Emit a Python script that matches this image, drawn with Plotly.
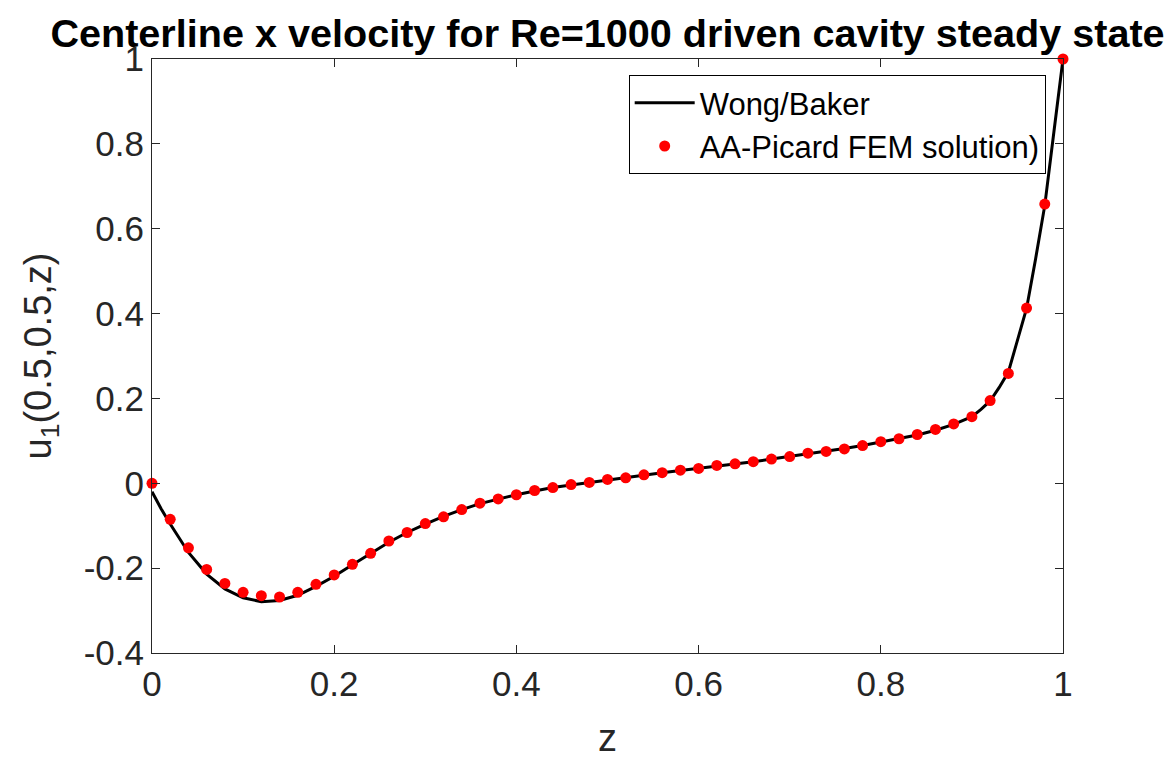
import plotly.graph_objects as go

# FEM solution points (red dots)
fem_z = [0.00, 0.02, 0.04, 0.06, 0.08, 0.10, 0.12, 0.14, 0.16, 0.18,
         0.20, 0.22, 0.24, 0.26, 0.28, 0.30, 0.32, 0.34, 0.36, 0.38,
         0.40, 0.42, 0.44, 0.46, 0.48, 0.50, 0.52, 0.54, 0.56, 0.58,
         0.60, 0.62, 0.64, 0.66, 0.68, 0.70, 0.72, 0.74, 0.76, 0.78,
         0.80, 0.82, 0.84, 0.86, 0.88, 0.90, 0.92, 0.94, 0.96, 0.98, 1.00]
fem_u = [0.000, -0.085, -0.152, -0.203, -0.236, -0.257, -0.265, -0.268, -0.257, -0.238,
         -0.216, -0.191, -0.165, -0.136, -0.116, -0.095, -0.079, -0.062, -0.047, -0.037,
         -0.027, -0.017, -0.010, -0.003, 0.002, 0.009, 0.013, 0.020, 0.025, 0.031,
         0.035, 0.042, 0.046, 0.051, 0.057, 0.063, 0.071, 0.075, 0.081, 0.089,
         0.098, 0.105, 0.115, 0.127, 0.140, 0.157, 0.195, 0.259, 0.413, 0.658, 1.000]

# Wong/Baker reference curve (black line)
ref_z = [0.00, 0.01, 0.02, 0.04, 0.06, 0.08, 0.10, 0.12, 0.14, 0.16, 0.18,
         0.20, 0.22, 0.24, 0.26, 0.28, 0.30, 0.32, 0.34, 0.36, 0.38,
         0.40, 0.42, 0.44, 0.46, 0.48, 0.50, 0.52, 0.54, 0.56, 0.58,
         0.60, 0.62, 0.64, 0.66, 0.68, 0.70, 0.72, 0.74, 0.76, 0.78,
         0.80, 0.82, 0.84, 0.86, 0.88, 0.90, 0.91, 0.92, 0.93, 0.94,
         0.95, 0.96, 0.97, 0.98, 0.99, 1.00]
ref_u = [-0.020, -0.060, -0.096, -0.163, -0.214, -0.249, -0.270, -0.279, -0.276, -0.264, -0.243,
         -0.219, -0.192, -0.165, -0.139, -0.116, -0.096, -0.078, -0.062, -0.048, -0.037,
         -0.027, -0.018, -0.010, -0.004, 0.002, 0.008, 0.013, 0.019, 0.025, 0.030,
         0.035, 0.041, 0.046, 0.051, 0.057, 0.063, 0.069, 0.075, 0.082, 0.089,
         0.097, 0.105, 0.114, 0.125, 0.139, 0.157, 0.174, 0.194, 0.226, 0.262,
         0.335, 0.412, 0.530, 0.655, 0.828, 1.000]

x_ticks = [0, 0.2, 0.4, 0.6, 0.8, 1]
x_labels = ["0", "0.2", "0.4", "0.6", "0.8", "1"]
y_ticks = [-0.4, -0.2, 0, 0.2, 0.4, 0.6, 0.8, 1]
y_labels = ["-0.4", "-0.2", "0", "0.2", "0.4", "0.6", "0.8", "1"]

font = "Liberation Sans, Arial, sans-serif"
axcol = "#262626"

fig = go.Figure()
fig.add_trace(go.Scatter(
    x=ref_z, y=ref_u, mode="lines", name="Wong/Baker",
    line=dict(color="black", width=3), cliponaxis=False))
fig.add_trace(go.Scatter(
    x=fem_z, y=fem_u, mode="markers", name="AA-Picard FEM solution)",
    marker=dict(color="#ff0000", size=11), cliponaxis=False))

axis_common = dict(
    showline=True, linecolor=axcol, linewidth=1, mirror="ticks",
    ticks="inside", ticklen=8, tickcolor=axcol, showgrid=False, zeroline=False,
    tickfont=dict(family=font, size=35, color=axcol))

fig.update_xaxes(range=[0, 1], tickvals=x_ticks, ticktext=x_labels,
                 title=dict(text="z", font=dict(family=font, size=38, color=axcol), standoff=22),
                 **axis_common)
fig.update_yaxes(range=[-0.4, 1], tickvals=y_ticks, ticktext=y_labels,
                 title=dict(text="u<sub>1</sub>(0.5,0.5,z)", font=dict(family=font, size=38, color=axcol),
                            standoff=20),
                 **axis_common)

# page body adds an 8px offset, so the figure is a bit smaller and shifted
fig.update_layout(
    width=1165, height=753,
    margin=dict(l=144, r=110, t=51, b=108, autoexpand=False),
    paper_bgcolor="white", plot_bgcolor="white",
    title=dict(text="<b>Centerline x velocity for Re=1000 driven cavity steady state</b>",
               xref="paper", x=0.5, xanchor="center", y=0.967, yanchor="middle",
               font=dict(family=font, size=39.6, color="black")),
    legend=dict(x=0.981, xanchor="right", y=0.973, yanchor="top",
                bordercolor="black", borderwidth=1, bgcolor="white",
                font=dict(family=font, size=31, color="black"),
                itemwidth=60, tracegroupgap=0),
)

fig.write_html("out.html")
